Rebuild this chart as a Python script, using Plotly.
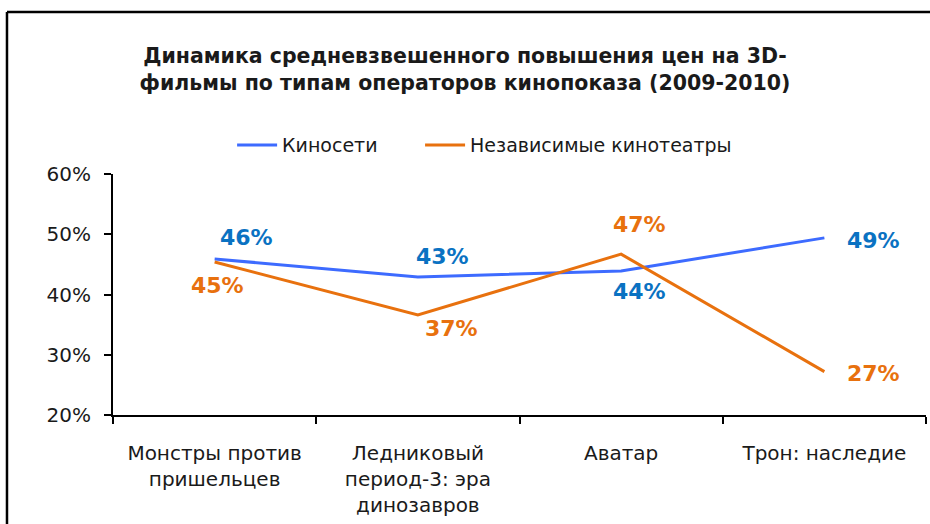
import plotly.graph_objects as go

categories = ["Монстры против<br>пришельцев", "Ледниковый<br>период-3: эра<br>динозавров", "Аватар", "Трон: наследие"]
series_names = ["Киносети", "Независимые кинотеатры"]
chains = [0.459, 0.429, 0.439, 0.494]
independent = [0.454, 0.366, 0.467, 0.272]
y_ticks = [0.2, 0.3, 0.4, 0.5, 0.6]
y_tick_labels = ["20%", "30%", "40%", "50%", "60%"]

line_colors = ["#3D6BFF", "#E8710E"]
label_colors = ["#0A72C2", "#E8710E"]
label_shifts = [
    [(32, 21), (25, 21), (18, -20), (49, -3)],
    [(3, -24), (34, -14), (18, 30), (49, -2)],
]
legend_ids = ["legend", "legend2"]
legend_x = [0.1465, 0.3777]

FONT = "DejaVu Sans"
fig = go.Figure()
for name, vals, col, lg in zip(series_names, [chains, independent], line_colors, legend_ids):
    fig.add_trace(go.Scatter(x=categories, y=vals, name=name, mode="lines", legend=lg,
                             showlegend=True, line=dict(color=col, width=3)))

annotations = []
for vals, col, shifts in zip([chains, independent], label_colors, label_shifts):
    for c, v, (dx, dy) in zip(categories, vals, shifts):
        annotations.append(dict(x=c, y=v, xref="x", yref="y", text=f"{round(v*100)}%",
                                showarrow=False, xshift=dx, yshift=dy,
                                font=dict(family=FONT, size=22, color=col, weight="bold")))

legend_style = dict(orientation="h", xanchor="left", y=1.12, yanchor="middle",
                    font=dict(family=FONT, size=19, color="#1a1a1a"), itemwidth=40,
                    bgcolor="rgba(0,0,0,0)", visible=True)

frame = dict(color="black", width=2.5)
fig.update_layout(
    width=930, height=524,
    showlegend=True,
    margin=dict(l=113, r=4, t=174, b=109, autoexpand=False),
    paper_bgcolor="white", plot_bgcolor="white",
    font=dict(family=FONT, size=20, color="#1a1a1a"),
    title=dict(text="<b>Динамика средневзвешенного повышения цен на 3D-<br>фильмы по типам операторов кинопоказа (2009-2010)</b>",
               x=0.5, xanchor="center", y=0.880, yanchor="middle",
               font=dict(family=FONT, size=20.5, color="#1a1a1a")),
    legend=dict(x=legend_x[0], **legend_style),
    legend2=dict(x=legend_x[1], **legend_style),
    annotations=annotations,
    shapes=[
        dict(type="line", xref="paper", yref="paper", x0=-0.1304, x1=-0.1304, y0=-0.6, y1=1.672,
             line=frame, layer="below"),
        dict(type="line", xref="paper", yref="paper", x0=-0.1304, x1=1.2, y0=1.672, y1=1.672,
             line=frame, layer="below"),
    ],
)
fig.update_xaxes(type="category", range=[-0.5, 3.5], showline=True, linecolor="black", linewidth=2,
                 ticks="outside", tickson="boundaries", ticklen=7, tickwidth=2, tickcolor="black",
                 showgrid=False, ticklabelstandoff=19, automargin=False)
fig.update_yaxes(range=[0.2, 0.6], tickvals=y_ticks, ticktext=y_tick_labels, showline=True,
                 linecolor="black", linewidth=2, ticks="outside", ticklen=7, tickwidth=2,
                 tickcolor="black", showgrid=False, zeroline=False, ticklabelstandoff=9,
                 automargin=False)
fig.write_html("out.html", config={"displayModeBar": False},
               post_script="document.body.style.margin='0';document.body.style.overflow='hidden';")
